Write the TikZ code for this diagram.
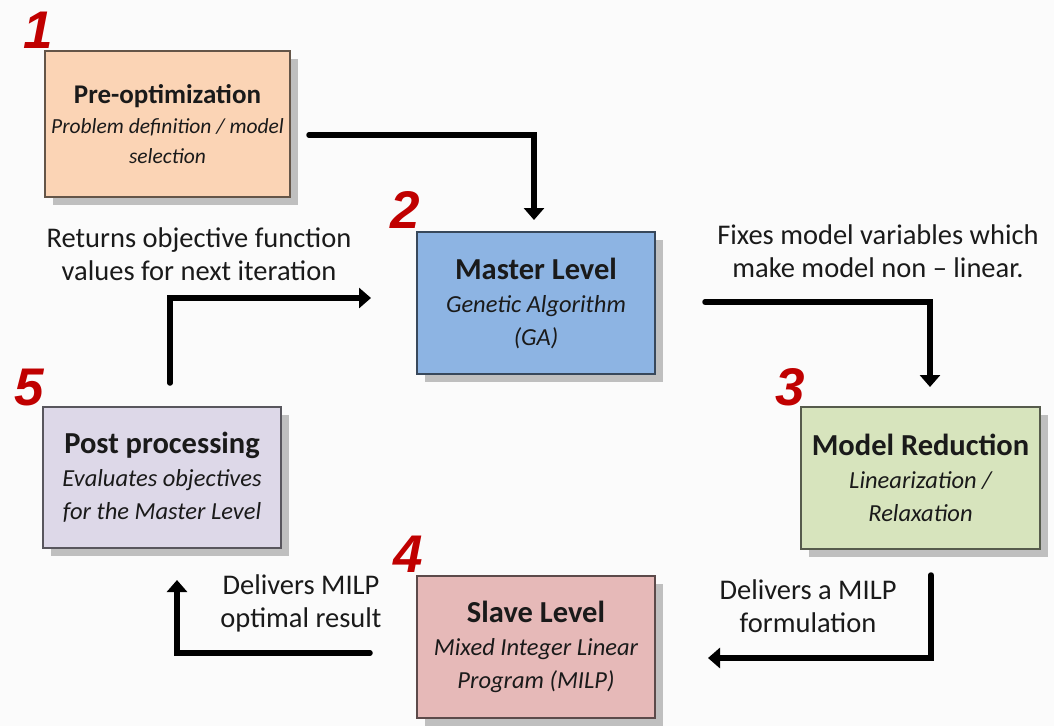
\documentclass[tikz,border=0pt]{standalone}
\usepackage{fontspec}
\setmainfont{Carlito}
\newfontfamily\numfont{Liberation Sans}
\usetikzlibrary{arrows.meta,shadows}
\definecolor{bgc}{HTML}{FBFBFB}
\definecolor{shadowc}{HTML}{BFBFBF}
\definecolor{numred}{HTML}{C00000}
\definecolor{fillA}{HTML}{FBD4B5}
\definecolor{fillB}{HTML}{8DB4E3}
\definecolor{fillC}{HTML}{D7E4BD}
\definecolor{fillD}{HTML}{E6B9B8}
\definecolor{fillE}{HTML}{DDD8E8}
\definecolor{txt}{HTML}{1A1A1A}
\tikzset{
  box/.style={rectangle, inner sep=0pt, line width=1.3pt, align=center,
    text=txt, font=\fontsize{24.5}{33}\selectfont\itshape,
    general shadow={fill=shadowc, shadow xshift=8pt, shadow yshift=-8pt}},
  boxsmall/.style={font=\fontsize{21.5}{30}\selectfont\itshape},
  lbl/.style={align=center, text=txt, inner sep=0pt, font=\fontsize{28.5}{33}\selectfont},
  num/.style={anchor=base, inner sep=0pt, text=numred, font=\fontsize{53}{53}\selectfont\numfont\bfseries\itshape},
  arr/.style={line width=5.5pt, line cap=round, -{Triangle[width=20pt,length=12pt]}}
}
\newcommand{\bxtitle}[1]{{\fontsize{30.5}{33}\selectfont\bfseries\upshape #1}}
\newcommand{\bxtitlesmall}[1]{{\fontsize{27}{30}\selectfont\bfseries\upshape #1}}
\begin{document}
\begin{tikzpicture}[x=1pt,y=-1pt]
\fill[bgc] (0,0) rectangle (1054,726);
\useasboundingbox (0,0) rectangle (1054,726);
% boxes
\node[box, boxsmall, fill=fillA, draw=fillA!40!black, minimum width=245pt, minimum height=146pt] (pre) at (167.5,124)
  {\bxtitlesmall{Pre-optimization}\\Problem definition / model\\selection};
\node[box, fill=fillB, draw=fillB!40!black, minimum width=238pt, minimum height=142pt] (master) at (536,303)
  {\bxtitle{Master Level}\\Genetic Algorithm\\(GA)};
\node[box, fill=fillC, draw=fillC!40!black, minimum width=239pt, minimum height=142pt] (reduc) at (920.5,478)
  {\bxtitle{Model Reduction}\\Linearization /\\Relaxation};
\node[box, fill=fillD, draw=fillD!40!black, minimum width=238pt, minimum height=142pt] (slave) at (536,647)
  {\bxtitle{Slave Level}\\Mixed Integer Linear\\Program (MILP)};
\node[box, fill=fillE, draw=fillE!40!black, minimum width=238pt, minimum height=141pt] (post) at (162,477.5)
  {\bxtitle{Post processing}\\Evaluates objectives\\for the Master Level};
% numbers
\node[num] (n1) at (38,48) {1};
\node[num] (n2) at (405,228) {2};
\node[num] (n3) at (790,405) {3};
\node[num] (n4) at (408,572) {4};
\node[num] (n5) at (29,405) {5};
% labels
\node[lbl] (l1) at (199,254) {Returns objective function\\values for next iteration};
\node[lbl] (l2) at (878,251) {Fixes model variables which\\make model non -- linear.};
\node[lbl] (l3) at (808,606) {Delivers a MILP\\formulation};
\node[lbl] (l4) at (301,603) {Delivers MILP\\optimal result};
% connector ends
\coordinate (a1s) at (309,135);
\coordinate (a1e) at (534,220);
\coordinate (a2s) at (705,302);
\coordinate (a2e) at (930,387);
\coordinate (a3s) at (931,575);
\coordinate (a3e) at (708,658);
\coordinate (a4s) at (370,653);
\coordinate (a4e) at (177,580);
\coordinate (a5s) at (170,383);
\coordinate (a5e) at (371,298);
\draw[arr] (a1s) -| (a1e);
\draw[arr] (a2s) -| (a2e);
\draw[arr] (a3s) |- (a3e);
\draw[arr] (a4s) -| (a4e);
\draw[arr] (a5s) |- (a5e);
\end{tikzpicture}
\end{document}
